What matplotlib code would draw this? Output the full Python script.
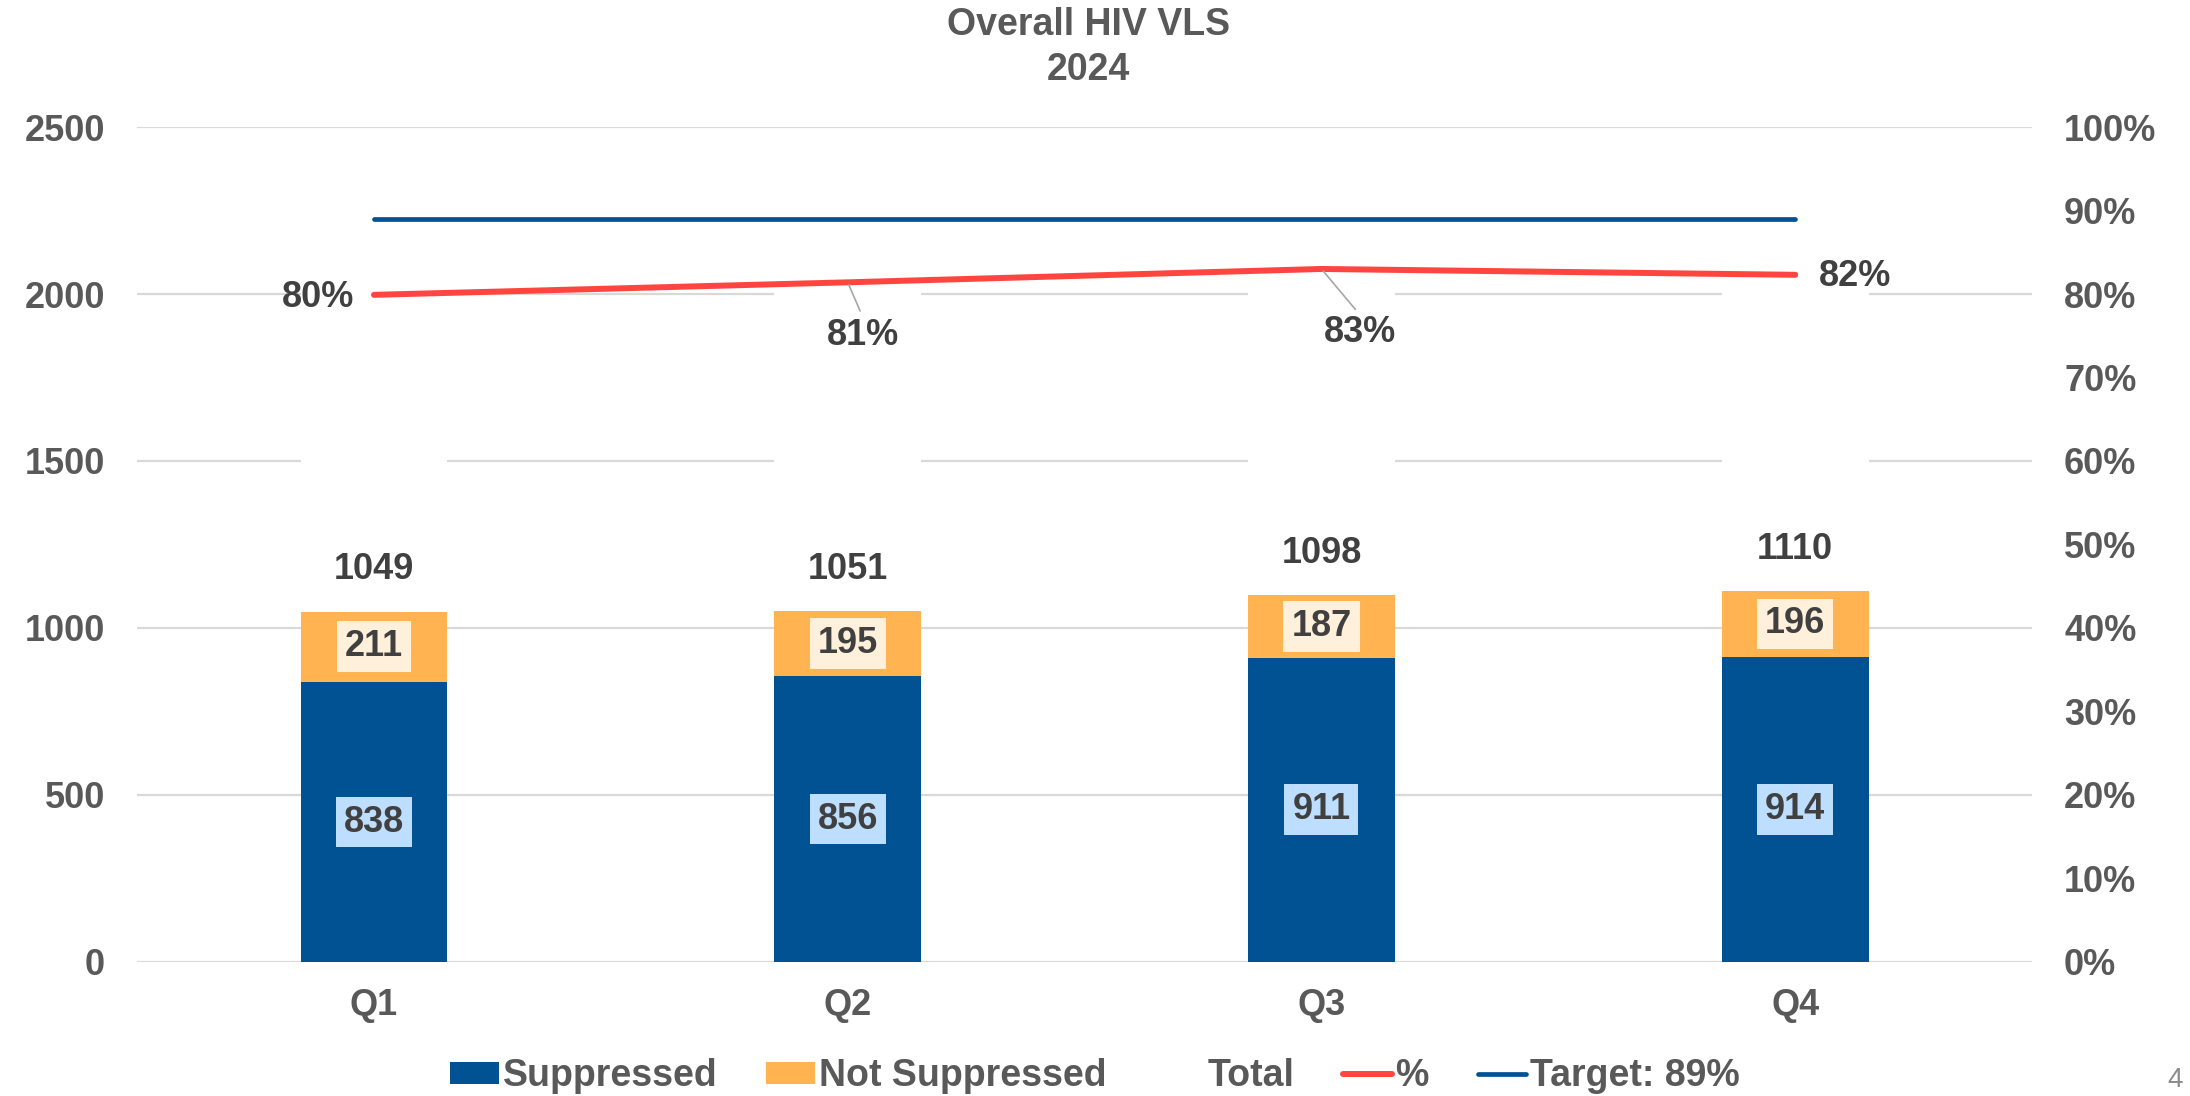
import matplotlib
matplotlib.use('Agg')
import matplotlib.pyplot as plt
from matplotlib.lines import Line2D
from matplotlib.patches import Patch

quarters = ['Q1', 'Q2', 'Q3', 'Q4']
suppressed = [838, 856, 911, 914]
not_suppressed = [211, 195, 187, 196]
totals = [1049, 1051, 1098, 1110]
pct = [79.9, 81.4, 83.0, 82.3]
target = [89, 89, 89, 89]

blue = '#005293'
orange = '#FFB451'
red = '#FF4540'
grey_txt = '#595959'
dark_txt = '#404040'

plt.rcParams['font.family'] = ['Liberation Sans', 'DejaVu Sans']
plt.rcParams['font.weight'] = 'bold'

fig = plt.figure(figsize=(21.9, 10.96), dpi=100)
ax = fig.add_axes([0.0626, 0.1223, 0.8653, 0.7618])
x = list(range(len(quarters)))
w = 0.31

ax.bar(x, suppressed, w, color=blue, zorder=2)
ax.bar(x, not_suppressed, w, bottom=suppressed, color=orange, zorder=2)
# invisible "Total" series (white), hides gridlines like the original
ax.bar(x, totals, w, bottom=totals, color='white', zorder=2)

ax.set_xlim(-0.5, 3.5)
ax.set_ylim(0, 2500)
ax.set_yticks(range(0, 2501, 500))
ax.set_xticks(x)
ax.set_xticklabels(quarters)
ax.yaxis.grid(True, color='#D9D9D9', lw=1.6)
ax.set_axisbelow(True)
for s in ax.spines.values():
    s.set_visible(False)
ax.tick_params(axis='y', labelsize=26, labelcolor=grey_txt, pad=23, length=0)
ax.tick_params(axis='x', labelsize=26, labelcolor=grey_txt, pad=19, length=0)

for i in x:
    ax.text(i, suppressed[i] / 2, str(suppressed[i]), ha='center', va='center',
            fontsize=26, color=dark_txt, zorder=4,
            bbox=dict(boxstyle='square,pad=0.22', fc='#BDDEFF', ec='none'))
    ax.text(i, suppressed[i] + not_suppressed[i] / 2, str(not_suppressed[i]),
            ha='center', va='center', fontsize=26, color=dark_txt, zorder=4,
            bbox=dict(boxstyle='square,pad=0.22', fc='#FFF0DB', ec='none'))
    ax.annotate(str(totals[i]), (i, totals[i]), xytext=(0, 30),
                textcoords='offset points', ha='center', va='center',
                fontsize=26, color=dark_txt, zorder=4)

ax2 = ax.twinx()
ax2.set_ylim(0, 100)
ax2.set_yticks(range(0, 101, 10))
ax2.set_yticklabels([f'{v}%' for v in range(0, 101, 10)])
for s in ax2.spines.values():
    s.set_visible(False)
ax2.tick_params(axis='y', labelsize=26, labelcolor=grey_txt, pad=23, length=0)

ax2.plot(x, pct, color=red, lw=4.3, solid_capstyle='round', zorder=3)
ax2.plot(x, target, color=blue, lw=3.4, solid_capstyle='round', zorder=3)

# % labels: (dx, dy) in points
offs = [(-40, -2), (11, -38), (28, -46), (43, -1)]
for i in x:
    dx, dy = offs[i]
    lbl = f'{round(pct[i])}%'
    if dy < -10:
        ax2.annotate(lbl, (i, pct[i]), xytext=(dx, dy), textcoords='offset points',
                     ha='center', va='center', fontsize=26, color=dark_txt,
                     arrowprops=dict(arrowstyle='-', color='#A6A6A6', lw=1.2,
                                     relpos=(0.5, 1.0), shrinkA=3, shrinkB=2))
    else:
        ax2.annotate(lbl, (i, pct[i]), xytext=(dx, dy), textcoords='offset points',
                     ha='center', va='center', fontsize=26, color=dark_txt)

fig.text(0.497, 0.9565, 'Overall HIV VLS\n2024', ha='center', va='center',
         fontsize=27, color=grey_txt, linespacing=1.3)

handles = [Patch(fc=blue, ec='none'), Patch(fc=orange, ec='none'),
           Patch(fc='none', ec='none'),
           Line2D([], [], color=red, lw=4.3, solid_capstyle='round'),
           Line2D([], [], color=blue, lw=3.4, solid_capstyle='round')]
labels = ['Suppressed', 'Not Suppressed', 'Total', '%', 'Target: 89%']
fig.legend(handles, labels, loc='center', bbox_to_anchor=(0.5, 0.018), ncol=5,
           frameon=False, fontsize=27, handlelength=1.3, handleheight=0.5,
           handletextpad=0.1, columnspacing=1.3, labelcolor=grey_txt)

fig.text(0.993, 0.0146, '4', ha='center', va='center', fontsize=20,
         color='#8C8C8C', fontweight='normal')

fig.savefig('out.png', dpi=100)
